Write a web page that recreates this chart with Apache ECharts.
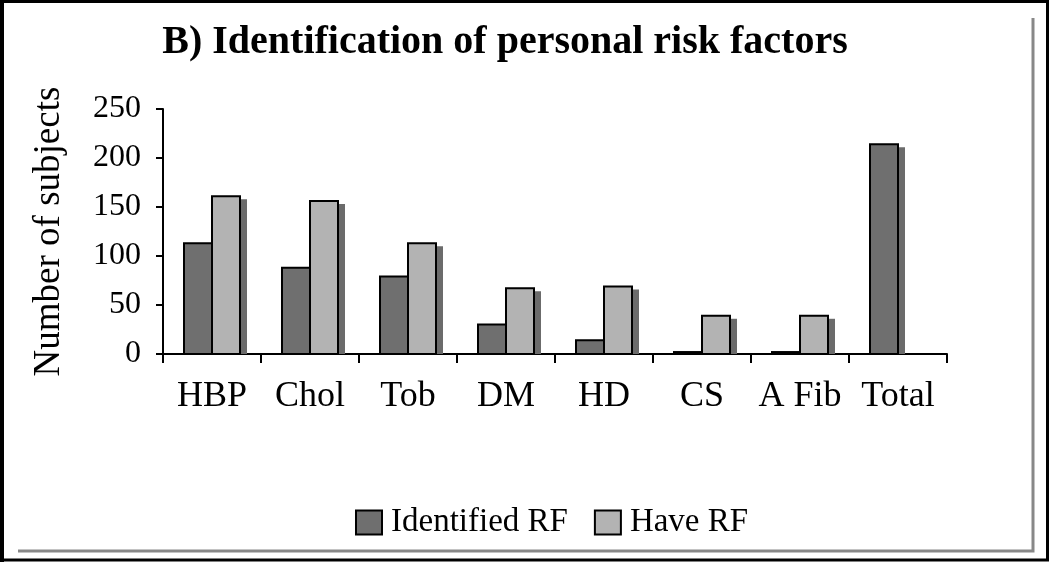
<!DOCTYPE html>
<html>
<head>
<meta charset="utf-8">
<script src="https://cdn.jsdelivr.net/npm/echarts@6/dist/echarts.min.js"></script>
<style>
  html, body { margin: 0; padding: 0; background: #ffffff; }
  #chart { width: 1050px; height: 566px; }
</style>
</head>
<body>
<div id="chart"></div>
<script>
const categories = ['HBP', 'Chol', 'Tob', 'DM', 'HD', 'CS', 'A Fib', 'Total'];
const identifiedRF = [113, 88, 79, 30, 14, 2, 2, 214];
const haveRF = [161, 156, 113, 67, 69, 39, 39, null];
const yTicks = { min: 0, max: 250, interval: 50 };

const FONT = '"Liberation Serif", "DejaVu Serif", serif';
const DARK = '#6f6f6f';
const LIGHT = '#b3b3b3';
const SHADOW = '#6b6b6b';
const BAR_W = 28;
const SH_X = 7, SH_Y = 3;

const chart = echarts.init(document.getElementById('chart'), null, { renderer: 'canvas' });

function makeRender(slot, color) {
  // slot: -1 => left half of pair, 0 => right half of pair
  return function (params, api) {
    const v = api.value(1);
    if (v === null || v === undefined || isNaN(v)) return;
    const top = api.coord([api.value(0), v]);
    const base = api.coord([api.value(0), 0]);
    const x = top[0] + slot * BAR_W;
    const h = base[1] - top[1];
    const shTop = Math.min(top[1] + SH_Y, base[1]);
    return {
      type: 'group',
      children: [
        {
          type: 'rect',
          shape: { x: x + SH_X, y: shTop, width: BAR_W, height: base[1] - shTop },
          style: { fill: SHADOW }
        },
        {
          type: 'rect',
          shape: { x: x, y: top[1], width: BAR_W, height: h },
          style: { fill: color, stroke: '#000', lineWidth: 2 }
        }
      ]
    };
  };
}

chart.setOption({
  backgroundColor: '#ffffff',
  animation: false,
  title: {
    text: 'B) Identification of personal risk factors',
    left: 500,
    top: 18,
    textAlign: 'center',
    textStyle: { fontFamily: FONT, fontWeight: 'bold', fontSize: 40, color: '#000' }
  },
  legend: {
    data: ['Identified RF', 'Have RF'],
    left: 355,
    top: 506,
    padding: 0,
    itemWidth: 26,
    itemHeight: 24,
    itemGap: 26,
    icon: 'rect',
    itemStyle: { borderColor: '#000', borderWidth: 2 },
    textStyle: { fontFamily: FONT, fontSize: 33, color: '#000', padding: [0, 0, 0, 4] }
  },
  grid: { left: 163, right: 103, top: 109, bottom: 212, containLabel: false },
  xAxis: {
    type: 'category',
    data: categories,
    axisLine: { lineStyle: { color: '#000', width: 2 } },
    axisTick: { show: true, length: 9, lineStyle: { color: '#000', width: 2 } },
    axisLabel: { fontFamily: FONT, fontSize: 36, color: '#000', margin: 25, interval: 0 }
  },
  yAxis: {
    type: 'value',
    min: yTicks.min,
    max: yTicks.max,
    interval: yTicks.interval,
    name: 'Number of subjects',
    nameLocation: 'middle',
    nameRotate: 90,
    nameGap: 95,
    nameTextStyle: { fontFamily: FONT, fontSize: 37, color: '#000' },
    axisLine: { show: true, lineStyle: { color: '#000', width: 2 } },
    axisTick: { show: true, length: 7, lineStyle: { color: '#000', width: 2 } },
    axisLabel: { fontFamily: FONT, fontSize: 32, color: '#000', margin: 22 },
    splitLine: { show: false }
  },
  series: [
    {
      name: 'Identified RF',
      type: 'custom',
      renderItem: makeRender(-1, DARK),
      encode: { x: 0, y: 1 },
      itemStyle: { color: DARK },
      data: identifiedRF.map((v, i) => [i, v])
    },
    {
      name: 'Have RF',
      type: 'custom',
      renderItem: makeRender(0, LIGHT),
      encode: { x: 0, y: 1 },
      itemStyle: { color: LIGHT },
      data: haveRF.map((v, i) => [i, v])
    }
  ],
  graphic: [
    {
      type: 'polyline',
      silent: true,
      shape: { points: [[18, 551], [1033, 551], [1033, 18]] },
      style: { stroke: '#888', lineWidth: 3, fill: null }
    },
    {
      type: 'rect',
      silent: true,
      shape: { x: 2, y: 1.5, width: 1045.5, height: 558.5 },
      style: { stroke: '#000', lineWidth: 3, fill: null }
    },
    {
      type: 'line',
      silent: true,
      shape: { x1: 2, y1: 0, x2: 2, y2: 562 },
      style: { stroke: '#000', lineWidth: 4 }
    }
  ]
});
</script>
</body>
</html>
